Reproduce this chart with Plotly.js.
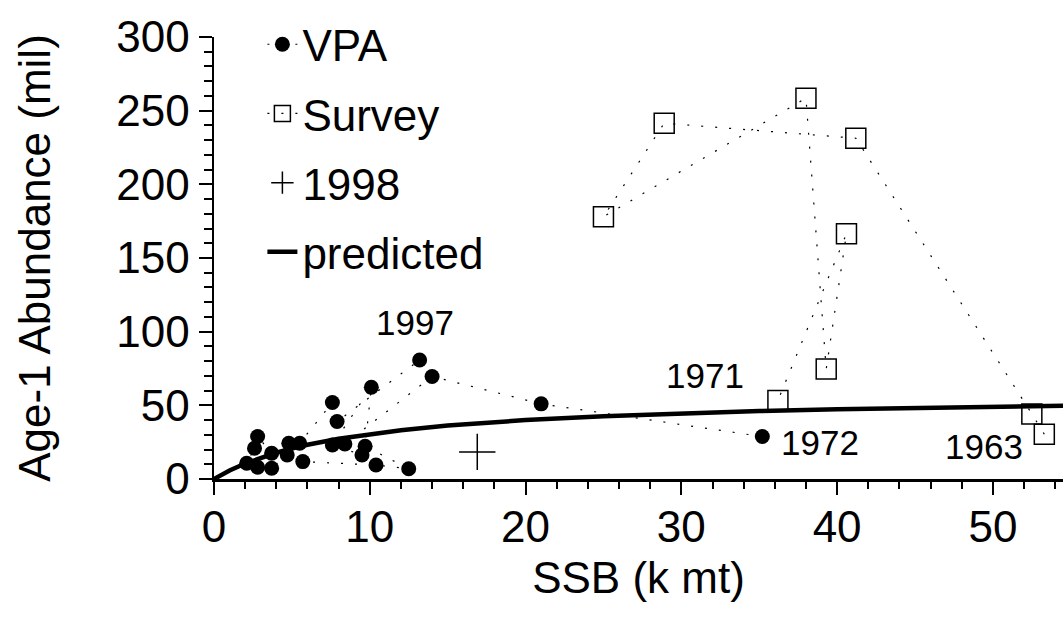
<!DOCTYPE html>
<html>
<head>
<meta charset="utf-8">
<script src="https://cdn.plot.ly/plotly-3.0.1.min.js"></script>
<style>html,body{margin:0;padding:0;background:#fff;}#chart{width:1063px;height:631px;}</style>
</head>
<body>
<div id="chart"></div>
<script>
// Survey (1963-1971), chronological
const surveySSB = [53.3, 52.5, 41.2, 28.9, 25.0, 38.0, 39.3, 40.6, 36.2];
const surveyAge1 = [30.4, 44.2, 231.3, 241.5, 178.0, 258.5, 74.6, 166.5, 53.3];

// VPA (1972-1997), approximate chronological chain
const vpaSSB = [35.2, 21.0, 14.0, 8.4, 9.5, 7.6, 10.1, 9.7, 12.5, 10.4, 5.7, 4.7, 3.7, 2.8, 2.1, 2.6, 2.8, 3.7, 4.8, 5.5, 7.6, 7.9, 13.2];
const vpaAge1 = [28.8, 51.0, 69.6, 23.8, 16.3, 23.1, 62.3, 22.2, 7.0, 9.5, 11.8, 16.3, 7.3, 8.0, 10.7, 20.9, 28.8, 17.5, 24.3, 24.3, 51.9, 39.0, 80.8];

// 1998 point
const ssb1998 = [16.9];
const age1998 = [18.4];

// predicted curve
const predSSB = [0, 1, 2, 3, 4, 5, 6, 8, 10, 12, 15, 20, 25, 30, 35, 40, 45, 50, 55];
const predAge1 = [0, 5.8, 10.5, 14.5, 17.8, 20.7, 23.2, 27.3, 30.5, 33.1, 36.3, 40.0, 42.6, 44.6, 46.1, 47.3, 48.3, 49.2, 49.8];

// year labels
const labelText = ['1997', '1971', '1972', '1963'];
const labelX = [12.9, 31.5, 38.9, 49.4];
const labelY = [106, 70, 25, 22];

const FONT = 'Liberation Sans, Arial, Helvetica, sans-serif';
const dotLine = {color: '#000', width: 1.2, dash: '2px,12px'};

const traces = [
  {x: vpaSSB, y: vpaAge1, name: 'VPA', mode: 'lines+markers', legendgroup: 'a',
   line: dotLine, marker: {symbol: 'circle', size: 15, color: '#000'}},
  {x: surveySSB, y: surveyAge1, name: 'Survey', mode: 'lines+markers', legendgroup: 'b',
   line: dotLine, marker: {symbol: 'square-open', size: 20, color: '#000', line: {width: 1.5, color: '#000'}}},
  {x: ssb1998, y: age1998, name: '1998', mode: 'markers', legendgroup: 'c',
   marker: {symbol: 'cross-thin-open', size: 26, color: '#000', line: {width: 1.5, color: '#000'}}},
  {x: predSSB, y: predAge1, name: 'predicted', mode: 'lines', legendgroup: 'd',
   line: {color: '#000', width: 4.5}}
];

const annotations = labelText.map((t, i) => ({
  x: labelX[i], y: labelY[i], xref: 'x', yref: 'y', text: t, showarrow: false,
  font: {family: FONT, size: 35, color: '#000'}
}));

const layout = {
  width: 1063, height: 631,
  margin: {l: 214, r: 0, t: 37, b: 152},
  paper_bgcolor: '#fff', plot_bgcolor: '#fff',
  font: {family: FONT, size: 44, color: '#000'},
  showlegend: true,
  legend: {x: 0.057, y: 1.063, xanchor: 'left', yanchor: 'top', bgcolor: 'rgba(0,0,0,0)',
           font: {family: FONT, size: 44, color: '#000'}, tracegroupgap: 9, itemwidth: 30},
  xaxis: {
    range: [0, 54.5], dtick: 10, tick0: 0, ticks: 'outside', ticklen: 13, tickwidth: 2, tickcolor: '#000',
    showline: true, linewidth: 2.5, linecolor: '#000', showgrid: false, zeroline: false,
    tickfont: {family: FONT, size: 44, color: '#000'}, ticklabelstandoff: -5,
    minor: {dtick: 2, ticks: 'outside', ticklen: 7, tickwidth: 2, tickcolor: '#000', showgrid: false},
    title: {text: 'SSB (k mt)', font: {family: FONT, size: 44, color: '#000'}, standoff: 12},
    fixedrange: true
  },
  yaxis: {
    range: [0, 300], dtick: 50, tick0: 0, ticks: 'outside', ticklen: 13, tickwidth: 2, tickcolor: '#000',
    showline: true, linewidth: 2.5, linecolor: '#000', showgrid: false, zeroline: false,
    tickfont: {family: FONT, size: 44, color: '#000'},
    minor: {dtick: 10, ticks: 'outside', ticklen: 8, tickwidth: 2, tickcolor: '#000', showgrid: false},
    title: {text: 'Age-1 Abundance (mil)', font: {family: FONT, size: 44, color: '#000'}, standoff: 52},
    fixedrange: true
  },
  annotations: annotations
};

Plotly.newPlot('chart', traces, layout, {displayModeBar: false, staticPlot: true});
</script>
</body>
</html>
